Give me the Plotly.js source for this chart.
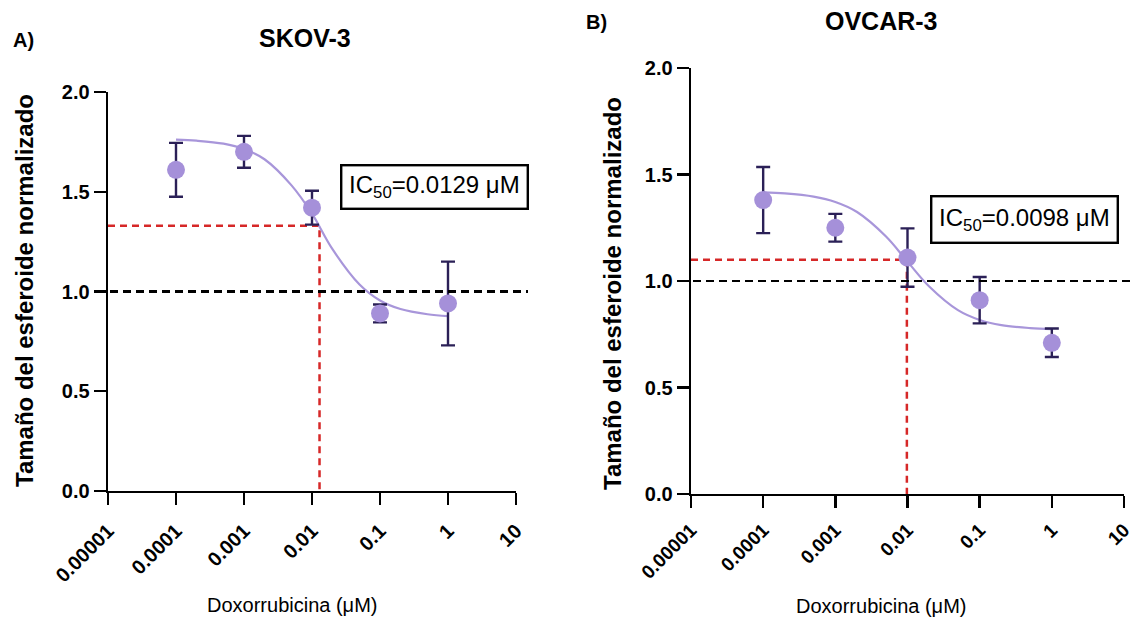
<!DOCTYPE html>
<html>
<head>
<meta charset="utf-8">
<script src="https://cdn.plot.ly/plotly-3.0.1.min.js"></script>
<style>html,body{margin:0;padding:0;background:#fff;}#chart{width:1135px;height:618px;}</style>
</head>
<body>
<div id="chart"></div>
<script>
// ---- data ----
const doses = [0.0001, 0.001, 0.01, 0.1, 1];
const skovMean = [1.61, 1.70, 1.42, 0.89, 0.94];
const skovErr  = [0.135, 0.08, 0.085, 0.045, 0.21];
const ovcarMean = [1.38, 1.25, 1.11, 0.91, 0.71];
const ovcarErr  = [0.155, 0.065, 0.137, 0.109, 0.067];

const curveX = [0.0001, 0.0002, 0.0005, 0.001, 0.002, 0.005, 0.01, 0.02, 0.05, 0.1, 0.2, 0.5, 1];
const skovCurve  = [1.761, 1.756, 1.741, 1.714, 1.663, 1.532, 1.390, 1.212, 1.035, 0.955, 0.912, 0.886, 0.877];
const ovcarCurve = [1.416, 1.411, 1.396, 1.371, 1.324, 1.210, 1.091, 0.974, 0.863, 0.817, 0.793, 0.779, 0.774];

const skovIC50 = 0.0129, skovHalf = 1.33;
const ovcarIC50 = 0.0098, ovcarHalf = 1.10;

const xTickVals = [0.00001, 0.0001, 0.001, 0.01, 0.1, 1, 10];
const xTickText = ["0.00001", "0.0001", "0.001", "0.01", "0.1", "1", "10"];
const yTickVals = [0, 0.5, 1.0, 1.5, 2.0];

// ---- styles ----
const FONT = "Arial, 'Liberation Sans', sans-serif";
const markerColor = "#a590d9";
const curveColor = "#a896da";
const errColor = "#2b2057";
const redColor = "#d62828";

function pointsTrace(y, err, xa, ya) {
  return {
    x: doses, y: y, xaxis: xa, yaxis: ya, type: "scatter", mode: "markers",
    marker: {color: markerColor, size: 18},
    error_y: {type: "data", array: err, visible: true, color: errColor, thickness: 2.4, width: 7},
    cliponaxis: false, showlegend: false, hoverinfo: "skip"
  };
}
function curveTrace(y, xa, ya) {
  return {
    x: curveX, y: y, xaxis: xa, yaxis: ya, type: "scatter", mode: "lines",
    line: {color: curveColor, width: 2.2, shape: "spline"},
    showlegend: false, hoverinfo: "skip"
  };
}
function redTrace(ic, half, xa, ya) {
  return {
    x: [xTickVals[0], ic, ic], y: [half, half, 0], xaxis: xa, yaxis: ya,
    type: "scatter", mode: "lines",
    line: {color: redColor, width: 2.5, dash: "7px,5px"},
    showlegend: false, hoverinfo: "skip"
  };
}

const traces = [
  redTrace(skovIC50, skovHalf, "x", "y"),
  curveTrace(skovCurve, "x", "y"),
  pointsTrace(skovMean, skovErr, "x", "y"),
  redTrace(ovcarIC50, ovcarHalf, "x2", "y2"),
  curveTrace(ovcarCurve, "x2", "y2"),
  pointsTrace(ovcarMean, ovcarErr, "x2", "y2")
];

function xAxis(domain, anchor, fsize, standoff) {
  return {
    domain: domain, anchor: anchor, type: "log",
    range: [-5, 1], tickvals: xTickVals, ticktext: xTickText,
    tickangle: -45, ticks: "outside", ticklen: 12, tickwidth: 2.4, tickcolor: "#000",
    ticklabelstandoff: standoff, ticklabeloverflow: "allow",
    showline: true, linewidth: 2.4, linecolor: "#000",
    showgrid: false, zeroline: false,
    tickfont: {family: FONT, size: fsize, color: "#000", weight: "bold"}
  };
}
function yAxis(domain, anchor) {
  return {
    domain: domain, anchor: anchor, range: [0, 2],
    tickvals: yTickVals, tickformat: ".1f",
    ticks: "outside", ticklen: 12, tickwidth: 2.4, tickcolor: "#000",
    ticklabeloverflow: "allow",
    showline: true, linewidth: 2.4, linecolor: "#000",
    showgrid: false, zeroline: false,
    tickfont: {family: FONT, size: 20, color: "#000", weight: "bold"}
  };
}

const W = 1135, H = 618;
const px = v => v / W, py = v => 1 - v / H;

const layout = {
  width: W, height: H,
  margin: {l: 0, r: 0, t: 0, b: 0},
  paper_bgcolor: "#fff", plot_bgcolor: "rgba(0,0,0,0)",
  showlegend: false,
  xaxis: xAxis([px(108), px(516)], "y", 20, 6),
  yaxis: yAxis([py(491), py(92)], "x"),
  xaxis2: xAxis([px(691), px(1124)], "y2", 19, 3),
  yaxis2: yAxis([py(494), py(68)], "x2"),
  shapes: [
    {type: "line", xref: "paper", yref: "y", x0: px(110), x1: px(528), y0: 1, y1: 1,
     line: {color: "#000", width: 2.8, dash: "8px,5px"}},
    {type: "line", xref: "paper", yref: "y2", x0: px(693), x1: 1, y0: 1, y1: 1,
     line: {color: "#000", width: 2, dash: "8px,5px"}}
  ],
  annotations: [
    {text: "A)", x: px(11), y: py(40), xref: "paper", yref: "paper", xanchor: "left", yanchor: "middle",
     showarrow: false, font: {family: FONT, size: 20, color: "#000", weight: "bold"}},
    {text: "SKOV-3", x: px(305), y: py(38), xref: "paper", yref: "paper", xanchor: "center", yanchor: "middle",
     showarrow: false, font: {family: FONT, size: 25, color: "#000", weight: "bold"}},
    {text: "B)", x: px(584), y: py(22), xref: "paper", yref: "paper", xanchor: "left", yanchor: "middle",
     showarrow: false, font: {family: FONT, size: 20, color: "#000", weight: "bold"}},
    {text: "OVCAR-3", x: px(881), y: py(21), xref: "paper", yref: "paper", xanchor: "center", yanchor: "middle",
     showarrow: false, font: {family: FONT, size: 25, color: "#000", weight: "bold"}},
    {text: "Tamaño del esferoide normalizado", x: px(24), y: py(291), xref: "paper", yref: "paper",
     xanchor: "center", yanchor: "middle", textangle: -90, showarrow: false,
     font: {family: FONT, size: 24, color: "#000", weight: "bold"}},
    {text: "Tamaño del esferoide normalizado", x: px(612), y: py(294), xref: "paper", yref: "paper",
     xanchor: "center", yanchor: "middle", textangle: -90, showarrow: false,
     font: {family: FONT, size: 24, color: "#000", weight: "bold"}},
    {text: "Doxorrubicina (μM)", x: px(292), y: py(605), xref: "paper", yref: "paper",
     xanchor: "center", yanchor: "middle", showarrow: false,
     font: {family: FONT, size: 20, color: "#000"}},
    {text: "Doxorrubicina (μM)", x: px(881), y: py(606), xref: "paper", yref: "paper",
     xanchor: "center", yanchor: "middle", showarrow: false,
     font: {family: FONT, size: 20, color: "#000"}},
    {text: "IC<sub>50</sub>=0.0129 μM", x: px(434), y: py(186.5), xref: "paper", yref: "paper",
     xanchor: "center", yanchor: "middle", showarrow: false, width: 178, height: 35,
     bordercolor: "#000", borderwidth: 2.4, borderpad: 3, bgcolor: "#fff",
     font: {family: FONT, size: 24, color: "#000"}},
    {text: "IC<sub>50</sub>=0.0098 μM", x: px(1024), y: py(219), xref: "paper", yref: "paper",
     xanchor: "center", yanchor: "middle", showarrow: false, width: 178, height: 38,
     bordercolor: "#000", borderwidth: 2.4, borderpad: 3, bgcolor: "#fff",
     font: {family: FONT, size: 24, color: "#000"}}
  ]
};

Plotly.newPlot("chart", traces, layout, {staticPlot: true, displayModeBar: false});
</script>
</body>
</html>
